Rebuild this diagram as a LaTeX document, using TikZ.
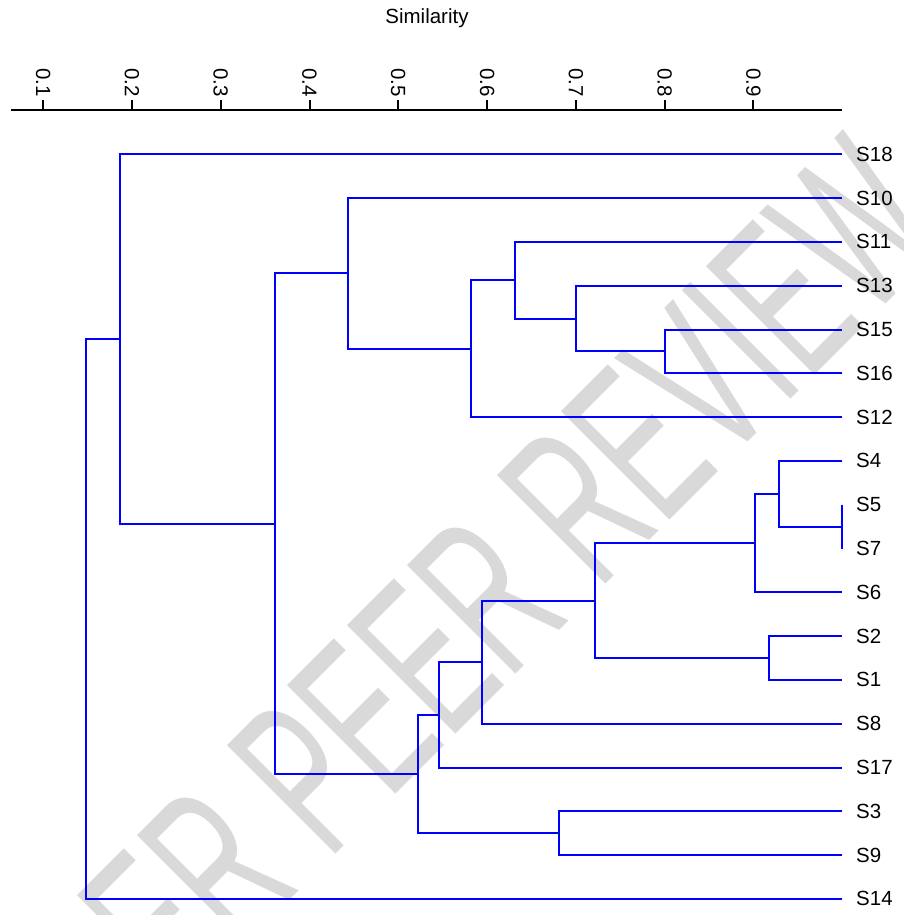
\documentclass[tikz,border=0pt]{standalone}
\usepackage{fontspec}
\setmainfont{Liberation Sans}
\begin{document}
\begin{tikzpicture}[x=1pt,y=-1pt,
  tree/.style={draw=blue, line width=2pt, line join=miter},
  axisline/.style={draw=black, line width=2pt},
  tickmark/.style={draw=black, line width=2pt},
  leaflabel/.style={anchor=west, inner sep=0pt, font=\fontsize{20.5}{24}\selectfont},
  ticklabel/.style={anchor=east, rotate=-90, inner sep=0pt, font=\fontsize{20.5}{24}\selectfont},
  titlelabel/.style={anchor=base, inner sep=0pt, font=\fontsize{20.5}{24}\selectfont},
  wm/.style={text=black!15, inner sep=0pt, font=\fontsize{223}{223}\selectfont, rotate=45, anchor=base west}]
\useasboundingbox (0,0) rectangle (903,915);
% watermark
\begin{scope}
\clip (0,0) rectangle (903,915);
\node[wm] (wm) at (598,592) {\scalebox{0.57}[1]{\llap{UNDER PEER }REVIEW}};
\end{scope}
% title
\node[titlelabel] (title) at (427,23.5) {Similarity};
% axis
\coordinate (ax0) at (11,110);
\coordinate (ax1) at (842,110);
\draw[axisline] (ax0) -- (ax1);
\foreach \v/\x in {1/43.3,2/132.05,3/220.8,4/309.55,5/398.3,6/487.05,7/575.8,8/664.55,9/753.3}{
  \coordinate (tk\v) at (\x,110);
  \coordinate (tt\v) at (\x,100);
  \draw[tickmark] (tk\v) -- (tt\v);
  \node[ticklabel] (tl\v) at (\x,97) {0.\v};
}
% leaves
\foreach \n/\y in {18/154.3,10/198.1,11/241.9,13/285.7,15/329.5,16/373.3,12/417.1,4/460.9,5/504.7,7/548.5,6/592.3,2/636.1,1/679.9,8/723.7,17/767.5,3/811.3,9/855.1,14/898.9}{
  \coordinate (e\n) at (842,\y);
  \node[leaflabel] (l\n) at (856,\y) {S\n};
}
% cluster nodes
\coordinate (c57) at (842,526.6);
\coordinate (c457) at (779.3,493.75);
\coordinate (c4576) at (754.7,543.0);
\coordinate (c21) at (768.7,658.0);
\coordinate (cA) at (594.7,600.5);
\coordinate (cB) at (481.5,662.1);
\coordinate (cC) at (439,714.8);
\coordinate (c39) at (559,833.2);
\coordinate (cD) at (418,774.0);
\coordinate (c1516) at (665.3,351.4);
\coordinate (c13) at (576,318.55);
\coordinate (c11) at (515,280.2);
\coordinate (c12) at (470.7,348.65);
\coordinate (c10) at (348.3,273.4);
\coordinate (cE) at (275.3,523.7);
\coordinate (c18) at (120.3,339.0);
\coordinate (c14) at (86,618.9);
% connectors
\draw[tree] (e5) -| (c57) |- (e7);
\draw[tree] (e4) -| (c457) |- (c57);
\draw[tree] (c457) -| (c4576) |- (e6);
\draw[tree] (e2) -| (c21) |- (e1);
\draw[tree] (c4576) -| (cA) |- (c21);
\draw[tree] (cA) -| (cB) |- (e8);
\draw[tree] (cB) -| (cC) |- (e17);
\draw[tree] (e3) -| (c39) |- (e9);
\draw[tree] (cC) -| (cD) |- (c39);
\draw[tree] (e15) -| (c1516) |- (e16);
\draw[tree] (e13) -| (c13) |- (c1516);
\draw[tree] (e11) -| (c11) |- (c13);
\draw[tree] (c11) -| (c12) |- (e12);
\draw[tree] (e10) -| (c10) |- (c12);
\draw[tree] (c10) -| (cE) |- (cD);
\draw[tree] (e18) -| (c18) |- (cE);
\draw[tree] (c18) -| (c14) |- (e14);
\end{tikzpicture}
\end{document}
